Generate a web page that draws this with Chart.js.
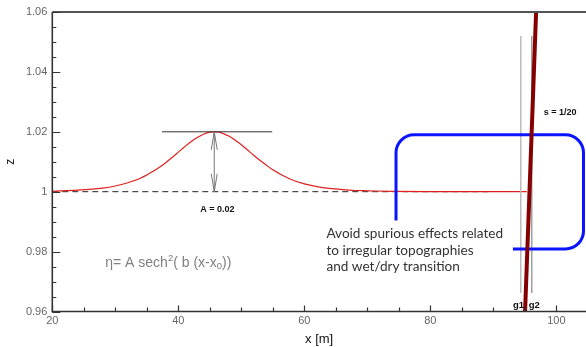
<!DOCTYPE html>
<html>
<head>
<meta charset="utf-8">
<script src="https://cdn.jsdelivr.net/npm/chart.js@4/dist/chart.umd.min.js"></script>
<style>
  html, body { margin: 0; padding: 0; background: #fff; }
  #wrap { width: 586px; height: 347px; position: relative; }
</style>
</head>
<body>
<div id="wrap"><canvas id="chart"></canvas></div>
<script>
// ---- data ----
const xTicks = [20, 40, 60, 80, 100];
const xTickLabels = ['20', '40', '60', '80', '100'];
const yTicks = [0.96, 0.98, 1, 1.02, 1.04, 1.06];
const yTickLabels = ['0.96', '0.98', '1', '1.02', '1.04', '1.06'];

// solitary wave profile (free surface)
const waveX = [20, 24, 28, 30, 32, 34, 35, 36, 37, 38, 39, 40, 41, 42, 43, 44, 45, 45.7, 46.5, 47, 48, 49, 50, 51, 52, 53, 54, 55, 56, 57, 58, 60, 62, 64, 66, 68, 70, 74, 80, 95.3];
const waveZ = [1.0002, 1.0005, 1.0012, 1.0019, 1.0030, 1.0045, 1.0056, 1.0068, 1.0082, 1.0097, 1.0114, 1.0132, 1.0150, 1.0167, 1.0181, 1.0192, 1.0199, 1.0200, 1.0199, 1.0195, 1.0186, 1.0173, 1.0157, 1.0139, 1.0121, 1.0104, 1.0088, 1.0073, 1.0061, 1.0050, 1.0040, 1.0026, 1.0017, 1.0011, 1.0007, 1.0004, 1.0003, 1.0001, 1.0000, 1.0000];

// still water level (dashed)
const swlX = [20, 89.5];
const swlZ = [1, 1];

// crest level line
const crestX = [37.4, 54.9];
const crestZ = [1.02, 1.02];

// sloping beach
const beachX = [95.03, 96.78];
const beachZ = [0.96, 1.06];

// wave gauges
const g1X = [94.35, 94.35];
const g2X = [96.1, 96.1];
const gaugeZ = [0.9662, 1.052];

const toPts = (xs, ys) => xs.map((x, i) => ({ x: x, y: ys[i] }));

// annotation anchors (data units)
const notes = {
  arrow: { x: 45.7, z0: 1.0, z1: 1.02 },
  amp: { x: 46.2, z: 0.9939, text: 'A = 0.02' },
  slope: { x: 100.6, z: 1.0266, text: 's = 1/20' },
  g1: { x: 94.0, z: 0.9622, text: 'g1' },
  g2: { x: 96.5, z: 0.9622, text: 'g2' },
  box: { x0: 74.55, x1: 104.3, xEnd: 93.1, zTop: 1.019, zBot: 0.9809, zLeftEnd: 0.9904 },
  msg: { x: 63.5, z: 0.9859, lines: ['Avoid spurious effects related', 'to irregular topographies', 'and wet/dry transition'] },
  formula: { x: 28.4, z: 0.9762 }
};

const annotate = {
  id: 'annotate',
  beforeDatasetDraw(chart, args) {
    if (args.index !== 0) return;
    // blue bracket, drawn just under the beach
    const { ctx, scales: { x, y } } = chart;
    const b = notes.box, r = 18;
    const L = x.getPixelForValue(b.x0), R = x.getPixelForValue(b.x1);
    const T = y.getPixelForValue(b.zTop), B = y.getPixelForValue(b.zBot);
    ctx.save();
    ctx.strokeStyle = '#0a14ff';
    ctx.lineWidth = 3;
    ctx.beginPath();
    ctx.moveTo(L, y.getPixelForValue(b.zLeftEnd));
    ctx.lineTo(L, T + r);
    ctx.arcTo(L, T, L + r, T, r);
    ctx.lineTo(R - r, T);
    ctx.arcTo(R, T, R, T + r, r);
    ctx.lineTo(R, B - r);
    ctx.arcTo(R, B, R - r, B, r);
    ctx.lineTo(x.getPixelForValue(b.xEnd), B);
    ctx.stroke();
    ctx.restore();
  },
  afterDatasetsDraw(chart) {
    const { ctx, chartArea: a, scales: { x, y } } = chart;
    ctx.save();

    // frame: left axis, bottom axis, top border
    ctx.strokeStyle = '#333';
    ctx.lineWidth = 1.6;
    ctx.beginPath();
    ctx.moveTo(a.left, a.top);
    ctx.lineTo(a.left, a.bottom);
    ctx.lineTo(a.right, a.bottom);
    ctx.stroke();
    ctx.strokeStyle = '#555';
    ctx.lineWidth = 2;
    ctx.beginPath();
    ctx.moveTo(a.left, a.top);
    ctx.lineTo(a.right, a.top);
    ctx.stroke();

    // inward ticks
    ctx.strokeStyle = '#333';
    ctx.lineWidth = 1.2;
    ctx.beginPath();
    for (let v = 20; v <= 104; v += 5) {
      const px = Math.round(x.getPixelForValue(v)) + 0.5;
      const len = v % 20 === 0 ? 6 : 4;
      ctx.moveTo(px, a.bottom);
      ctx.lineTo(px, a.bottom - len);
    }
    for (let k = 0; k <= 20; k++) {
      const v = 0.96 + k * 0.005;
      const py = Math.round(y.getPixelForValue(v)) + 0.5;
      const len = k % 4 === 0 ? 8 : 4;
      ctx.moveTo(a.left, py);
      ctx.lineTo(a.left + len, py);
    }
    ctx.stroke();

    // double arrow for amplitude
    const ax = x.getPixelForValue(notes.arrow.x);
    const ay0 = y.getPixelForValue(notes.arrow.z0);
    const ay1 = y.getPixelForValue(notes.arrow.z1);
    ctx.strokeStyle = '#777';
    ctx.lineWidth = 1;
    ctx.beginPath();
    ctx.moveTo(ax, ay0);
    ctx.lineTo(ax, ay1);
    ctx.moveTo(ax - 3, ay1 + 18); ctx.lineTo(ax, ay1); ctx.lineTo(ax + 3, ay1 + 18);
    ctx.moveTo(ax - 3, ay0 - 18); ctx.lineTo(ax, ay0); ctx.lineTo(ax + 3, ay0 - 18);
    ctx.stroke();

    // small bold labels
    ctx.fillStyle = '#111';
    ctx.textAlign = 'center';
    ctx.textBaseline = 'middle';
    ctx.font = 'bold 9px "Liberation Sans", Arial, sans-serif';
    [notes.amp, notes.slope].forEach(n => {
      ctx.fillText(n.text, x.getPixelForValue(n.x), y.getPixelForValue(n.z));
    });
    ctx.font = 'bold 9.5px "Liberation Sans", Arial, sans-serif';
    [notes.g1, notes.g2].forEach(n => {
      ctx.fillText(n.text, x.getPixelForValue(n.x), y.getPixelForValue(n.z));
    });

    // message text
    ctx.fillStyle = '#333';
    ctx.textAlign = 'left';
    ctx.font = '13.6px Lato, "Open Sans", sans-serif';
    const mx = x.getPixelForValue(notes.msg.x);
    let my = y.getPixelForValue(notes.msg.z);
    notes.msg.lines.forEach(t => { ctx.fillText(t, mx, my); my += 16.5; });

    // formula
    ctx.fillStyle = '#808080';
    let fx = x.getPixelForValue(notes.formula.x);
    const fy = y.getPixelForValue(notes.formula.z);
    const big = '14px "Liberation Sans", Arial, sans-serif';
    const small = '9.5px "Liberation Sans", Arial, sans-serif';
    const parts = [
      ['\u03b7= A sech', big, 0],
      ['2', small, -5],
      ['( b (x-x', big, 0],
      ['0', small, 3],
      ['))', big, 0]
    ];
    parts.forEach(p => {
      ctx.font = p[1];
      ctx.fillText(p[0], fx, fy + p[2]);
      fx += ctx.measureText(p[0]).width;
    });

    ctx.restore();
  }
};

const tickFont = { family: '"Liberation Sans", Arial, sans-serif', size: 11 };

new Chart(document.getElementById('chart'), {
  type: 'line',
  data: {
    datasets: [
      { data: toPts(beachX, beachZ), borderColor: '#850000', borderWidth: 4 },
      { data: toPts(g2X, gaugeZ), borderColor: '#888', borderWidth: 1.2 },
      { data: toPts(g1X, gaugeZ), borderColor: '#bbb', borderWidth: 1.5 },
      { data: toPts(crestX, crestZ), borderColor: '#333', borderWidth: 1 },
      { data: toPts(waveX, waveZ), borderColor: '#e02020', borderWidth: 1.2, cubicInterpolationMode: 'monotone' },
      { data: toPts(swlX, swlZ), borderColor: '#222', borderWidth: 1, borderDash: [6, 4] }
    ]
  },
  options: {
    responsive: true,
    maintainAspectRatio: false,
    animation: false,
    elements: { point: { radius: 0, hoverRadius: 0 } },
    layout: { padding: { top: 12, right: 0, left: 0, bottom: 0 } },
    plugins: { legend: { display: false }, tooltip: { enabled: false } },
    scales: {
      x: {
        type: 'linear',
        min: 20,
        max: 104.7,
        grid: { display: false, drawTicks: false },
        border: { display: false },
        afterBuildTicks: s => { s.ticks = xTicks.map(v => ({ value: v })); },
        afterFit: s => { s.height = 35.5; },
        ticks: {
          autoSkip: false, maxRotation: 0, padding: 3,
          color: '#666', font: tickFont,
          callback: (v) => xTickLabels[xTicks.indexOf(v)]
        },
        title: {
          display: true, text: 'x [m]', color: '#111',
          font: { family: '"Liberation Sans", Arial, sans-serif', size: 13 },
          padding: { top: 0, bottom: 0 }
        }
      },
      y: {
        type: 'linear',
        min: 0.96,
        max: 1.06,
        grid: { display: false, drawTicks: false },
        border: { display: false },
        afterBuildTicks: s => { s.ticks = yTicks.map(v => ({ value: v })); },
        afterFit: s => { s.width = 52.3; },
        ticks: {
          autoSkip: false, padding: 5,
          color: '#666', font: tickFont,
          callback: (v) => yTickLabels[yTicks.indexOf(v)]
        },
        title: {
          display: true, text: 'z', color: '#111',
          font: { family: '"Liberation Sans", Arial, sans-serif', size: 12 },
          padding: { top: 3, bottom: 0 }
        }
      }
    }
  },
  plugins: [annotate]
});
</script>
</body>
</html>
